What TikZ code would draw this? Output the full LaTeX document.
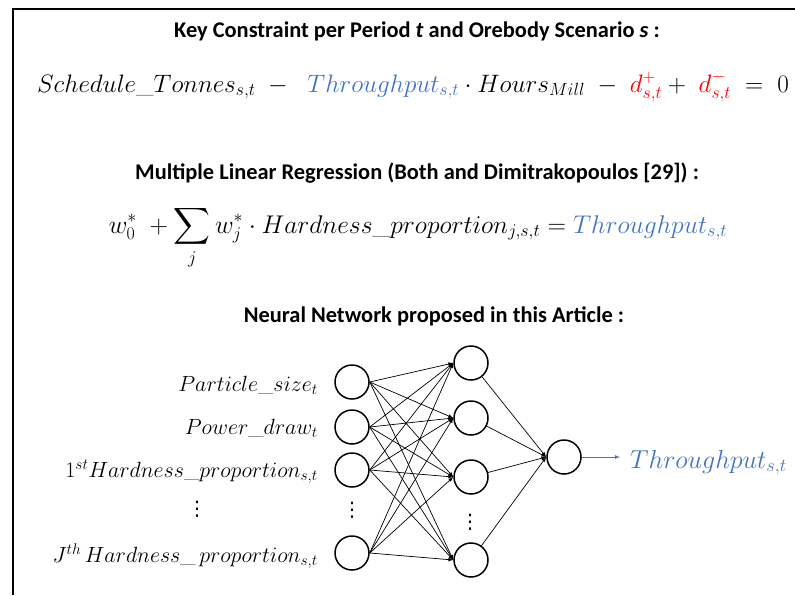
\RequirePackage{fix-cm}
\documentclass[tikz,border=0pt]{standalone}
\usepackage{amsfonts, amsmath, amssymb}
\usepackage{fontspec}
\newfontfamily\headfont{Carlito}
\newfontfamily\dotsfont{DejaVu Sans}
\usepackage{tikz}

\definecolor{tpblue}{RGB}{68,114,196}
\tikzset{
  heading/.style={font=\headfont\bfseries\fontsize{22.4}{26}\selectfont, anchor=base},
  neuron/.style={circle, draw, line width=1.5pt, minimum size=34pt, inner sep=0pt},
  feature/.style={anchor=base east, inner sep=0pt, font=\fontsize{22}{26}\selectfont},
  skipdots/.style={inner sep=0pt, font=\dotsfont\fontsize{20}{22}\selectfont},
  link/.style={-latex, line width=0.7pt}
}

\begin{document}
\begin{tikzpicture}[x=1pt,y=-1pt]
    \useasboundingbox (0,0) rectangle (795,595);
    % frame
    \draw[line width=1.5pt] (13,595) -- (13,9) -- (795,9);

    % Key constraint
    \node[heading] (headA) at (417,37) {Key Constraint per Period \textit{t} and Orebody Scenario \textit{s} :};
    \node[anchor=base, inner sep=0pt, font=\fontsize{25.2}{28}\selectfont] (eqA) at (413,92)
        {$Schedule\_Tonnes_{s,t}\;-\;\;\textcolor{tpblue}{Throughput_{s,t}}\cdot Hours_{Mill}\;-\;\textcolor{red}{d^{+}_{s,t}}+\;\textcolor{red}{d^{-}_{s,t}}\;=\;0$};

    % Multiple linear regression
    \node[heading] (headB) at (417,179) {Multiple Linear Regression (Both and Dimitrakopoulos [29]) :};
    \node[anchor=base, inner sep=0pt, font=\fontsize{25.6}{28}\selectfont] (eqB) at (418,233)
        {$\displaystyle w_0^{*}\;+\sum_{j} w_j^{*}\cdot Hardness\_proportion_{j,s,t} = \textcolor{tpblue}{Throughput_{s,t}}$};

    % Neural network
    \node[heading] (headC) at (434,322) {Neural Network proposed in this Article :};

    \node[feature] (fA) at (318,391) {$Particle\_size_t$};
    \node[feature] (fB) at (318,434) {$Power\_draw_t$};
    \node[feature] (fC) at (318,477) {$1^{st}Hardness\_proportion_{s,t}$};
    \node[skipdots] (fD) at (197,509) {⋮};
    \node[feature] (fE) at (318,562) {$J^{th}\,Hardness\_\,proportion_{s,t}$};

    % input layer
    \node[neuron] (inA) at (352,382) {};
    \node[neuron] (inB) at (352,427) {};
    \node[neuron] (inC) at (352,470) {};
    \node[skipdots] (inD) at (352,510) {⋮};
    \node[neuron] (inE) at (352,553) {};

    % hidden layer
    \node[neuron] (hidA) at (471,363) {};
    \node[neuron] (hidB) at (471,418) {};
    \node[neuron] (hidC) at (471,477) {};
    \node[skipdots] (hidD) at (470,522) {⋮};
    \node[neuron] (hidE) at (471,560) {};

    % output
    \node[neuron] (outA) at (564,457) {};
    \node[anchor=base west, inner sep=0pt, font=\fontsize{26}{28}\selectfont, text=tpblue] (tput) at (630,468) {$Throughput_{s,t}$};
    \coordinate (tipA) at (620,457);

    % input to hidden
    \draw[link] (inA.east) -- (hidA.west);
    \draw[link] (inA.east) -- (hidB.west);
    \draw[link] (inA.east) -- (hidC.west);
    \draw[link] (inA.east) -- (hidE.west);
    \draw[link] (inB.east) -- (hidA.west);
    \draw[link] (inB.east) -- (hidB.west);
    \draw[link] (inB.east) -- (hidC.west);
    \draw[link] (inB.east) -- (hidE.west);
    \draw[link] (inC.east) -- (hidA.west);
    \draw[link] (inC.east) -- (hidB.west);
    \draw[link] (inC.east) -- (hidC.west);
    \draw[link] (inC.east) -- (hidE.west);
    \draw[link] (inE.east) -- (hidA.west);
    \draw[link] (inE.east) -- (hidB.west);
    \draw[link] (inE.east) -- (hidC.west);
    \draw[link] (inE.east) -- (hidE.west);

    % hidden to output
    \draw[link] (hidA) -- (outA.west);
    \draw[link] (hidB) -- (outA.west);
    \draw[link] (hidC) -- (outA.west);
    \draw[link] (hidE) -- (outA.west);
    \draw[link, tpblue] (outA.east) -- (tipA);
\end{tikzpicture}
\end{document}
